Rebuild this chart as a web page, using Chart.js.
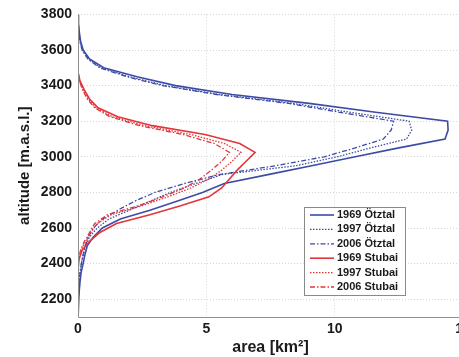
<!DOCTYPE html>
<html>
<head>
<meta charset="utf-8">
<title>Hypsometry Ötztal / Stubai</title>
<script src="https://cdn.jsdelivr.net/npm/chart.js@4.4.1/dist/chart.umd.min.js"></script>
<style>
    html, body { margin: 0; padding: 0; background: #fff; overflow: hidden; }
    #wrap { width: 480px; height: 357px; }
</style>
</head>
<body>
<div id="wrap"><canvas id="hypsoChart"></canvas></div>
<script>
// 1. DATA - glacier area per 50 m altitude band (km²)
const otzAlt = [3800, 3750, 3700, 3650, 3600, 3550, 3500, 3450, 3400, 3350, 3300, 3250,
                3200, 3150, 3100, 3050, 3000, 2950, 2900, 2850, 2800, 2750, 2700, 2650,
                2600, 2550, 2500, 2450, 2400, 2350, 2300, 2250, 2200, 2150, 2100];
const otz1969 = [0, 0.02, 0.05, 0.1, 0.2, 0.45, 1.0, 2.3, 3.8, 6.0, 9.0, 11.6,
                 14.4, 14.42, 14.3, 12.5, 10.8, 9.1, 7.4, 5.7, 4.85, 3.85, 2.8, 1.65,
                 0.95, 0.6, 0.36, 0.27, 0.2, 0.12, 0.08, 0.05, 0.03, 0.01, 0];
const otz1997 = [0, 0.01, 0.04, 0.08, 0.17, 0.4, 0.9, 2.0, 3.4, 5.5, 8.4, 10.6,
                 12.9, 13.0, 12.8, 11.4, 10.1, 8.5, 5.6, 4.6, 3.6, 2.8, 2.0, 1.2,
                 0.75, 0.45, 0.3, 0.2, 0.13, 0.08, 0.05, 0.03, 0.01, 0, 0];
const otz2006 = [0, 0.01, 0.03, 0.07, 0.16, 0.38, 0.85, 1.9, 3.3, 5.4, 8.2, 10.2,
                 12.3, 12.2, 11.9, 10.8, 9.6, 7.7, 5.5, 4.15, 3.0, 2.2, 1.55, 0.95,
                 0.6, 0.4, 0.28, 0.2, 0.13, 0.08, 0.05, 0.02, 0, 0, 0];

const stbAlt = [3475, 3425, 3375, 3325, 3275, 3225, 3175, 3125, 3075, 3025, 2975, 2925,
                2875, 2825, 2775, 2725, 2675, 2625, 2575, 2525, 2475, 2425, 2375, 2325];
const stb1969 = [0, 0.08, 0.25, 0.45, 0.78, 1.55, 2.9, 4.95, 6.3, 6.9, 6.55, 6.2,
                 5.9, 5.6, 5.1, 4.0, 2.8, 1.5, 0.85, 0.45, 0.16, 0.04, 0.01, 0];
const stb1997 = [0, 0.07, 0.2, 0.4, 0.7, 1.35, 2.6, 4.4, 5.7, 6.35, 6.0, 5.6,
                 5.1, 4.4, 3.5, 2.5, 1.3, 0.75, 0.5, 0.3, 0.12, 0.03, 0, 0];
const stb2006 = [0, 0.06, 0.18, 0.36, 0.65, 1.25, 2.4, 4.1, 5.3, 5.9, 5.6, 5.2,
                 4.75, 4.15, 3.3, 2.35, 1.15, 0.65, 0.45, 0.25, 0.1, 0.02, 0, 0];

const altTicks = [2200, 2400, 2600, 2800, 3000, 3200, 3400, 3600, 3800];
const areaTicks = [0, 5, 10, 15];

// 2. STYLES
const BLUE = '#3c4ba5';
const RED = '#e3353a';
const FONT = '"Liberation Sans", Arial, Helvetica, sans-serif';

Chart.defaults.font.family = FONT;
Chart.defaults.color = '#1a1a1a';

// area values paired with their altitude band
function profile(areas, alts) {
    return areas.map((a, i) => ({ x: a, y: alts[i] }));
}

function series(label, areas, alts, color, dash, width, order) {
    return {
        label: label,
        data: profile(areas, alts),
        borderColor: color,
        borderWidth: width,
        borderDash: dash,
        showLine: true,
        pointRadius: 0,
        tension: 0,
        order: order
    };
}

// legend drawn as a framed box inside the plot, MATLAB style
const boxLegend = {
    id: 'boxLegend',
    afterDraw(chart) {
        const { ctx, chartArea } = chart;
        const sets = chart.data.datasets;
        const rowH = 14.4, lineLen = 24;
        ctx.save();
        ctx.font = 'bold 11px ' + FONT;
        const textW = Math.max(...sets.map(s => ctx.measureText(s.label).width));
        const w = 6 + lineLen + 3 + textW + 7;
        const h = rowH * (sets.length - 1) + 16;
        const right = chartArea.right - 58;
        const bottom = chartArea.bottom - 22;
        const x = Math.round(right - w), y = Math.round(bottom - h);

        ctx.fillStyle = '#fff';
        ctx.fillRect(x, y, w, h);
        ctx.strokeStyle = '#8a8a8a';
        ctx.lineWidth = 1;
        ctx.strokeRect(x + 0.5, y + 0.5, Math.round(w), Math.round(h));

        sets.forEach((s, i) => {
            const cy = y + 8 + i * rowH;
            ctx.setLineDash(s.borderDash || []);
            ctx.strokeStyle = s.borderColor;
            ctx.lineWidth = s.borderWidth;
            ctx.beginPath();
            ctx.moveTo(x + 6, cy);
            ctx.lineTo(x + 6 + lineLen, cy);
            ctx.stroke();
            ctx.setLineDash([]);
            ctx.fillStyle = '#1a1a1a';
            ctx.textBaseline = 'middle';
            ctx.textAlign = 'left';
            ctx.fillText(s.label, x + 6 + lineLen + 3, cy);
        });
        ctx.restore();
    }
};

// solid axis lines on the left and bottom edges (grid lines stay dotted)
const axisLines = {
    id: 'axisLines',
    afterDatasetsDraw(chart) {
        const { ctx, chartArea: a } = chart;
        ctx.save();
        ctx.strokeStyle = '#8f8f8f';
        ctx.lineWidth = 1;
        ctx.beginPath();
        ctx.moveTo(a.left + 0.5, a.top);
        ctx.lineTo(a.left + 0.5, a.bottom + 0.5);
        ctx.lineTo(a.right, a.bottom + 0.5);
        ctx.stroke();
        ctx.restore();
    }
};

// 3. CHART
const ctx = document.getElementById('hypsoChart').getContext('2d');
const gridStyle = { color: '#d6d6d6', lineWidth: 1, drawTicks: false };
const dottedGrid = { display: false, dash: [1, 2] };

new Chart(ctx, {
    type: 'scatter',
    data: {
        datasets: [
            series('1969 Ötztal', otz1969, otzAlt, BLUE, [], 1.6, 1),
            series('1997 Ötztal', otz1997, otzAlt, BLUE, [1.5, 1.5], 1.3, 1),
            series('2006 Ötztal', otz2006, otzAlt, BLUE, [5, 2, 1.5, 2], 1.3, 1),
            series('1969 Stubai', stb1969, stbAlt, RED, [], 1.6, 0),
            series('1997 Stubai', stb1997, stbAlt, RED, [1.5, 1.5], 1.3, 0),
            series('2006 Stubai', stb2006, stbAlt, RED, [5, 2, 1.5, 2], 1.3, 0)
        ]
    },
    options: {
        responsive: true,
        maintainAspectRatio: false,
        animation: false,
        layout: { padding: { top: 14, right: 17, left: 0, bottom: 0 } },
        plugins: {
            legend: { display: false },
            tooltip: { enabled: false }
        },
        scales: {
            x: {
                type: 'linear',
                min: 0,
                max: 15,
                afterBuildTicks: s => { s.ticks = areaTicks.map(v => ({ value: v })); },
                afterFit: s => { s.height = 40; },
                grid: gridStyle,
                border: dottedGrid,
                ticks: {
                    font: { size: 14, weight: 'bold' },
                    padding: 4,
                    maxRotation: 0,
                    callback: v => String(v)
                },
                title: {
                    display: true,
                    text: 'area [km²]',
                    font: { size: 16, weight: 'bold' },
                    padding: { top: 0, bottom: 0 }
                }
            },
            y: {
                type: 'linear',
                min: 2100,
                max: 3800,
                afterBuildTicks: s => { s.ticks = altTicks.map(v => ({ value: v })); },
                afterFit: s => { s.width = 78; },
                grid: gridStyle,
                border: dottedGrid,
                ticks: {
                    font: { size: 14, weight: 'bold' },
                    padding: 6,
                    callback: v => String(v)
                },
                title: {
                    display: true,
                    text: 'altitude [m.a.s.l.]',
                    font: { size: 15, weight: 'bold' },
                    padding: { top: 16, bottom: 0 }
                }
            }
        }
    },
    plugins: [axisLines, boxLegend]
});
</script>
</body>
</html>
